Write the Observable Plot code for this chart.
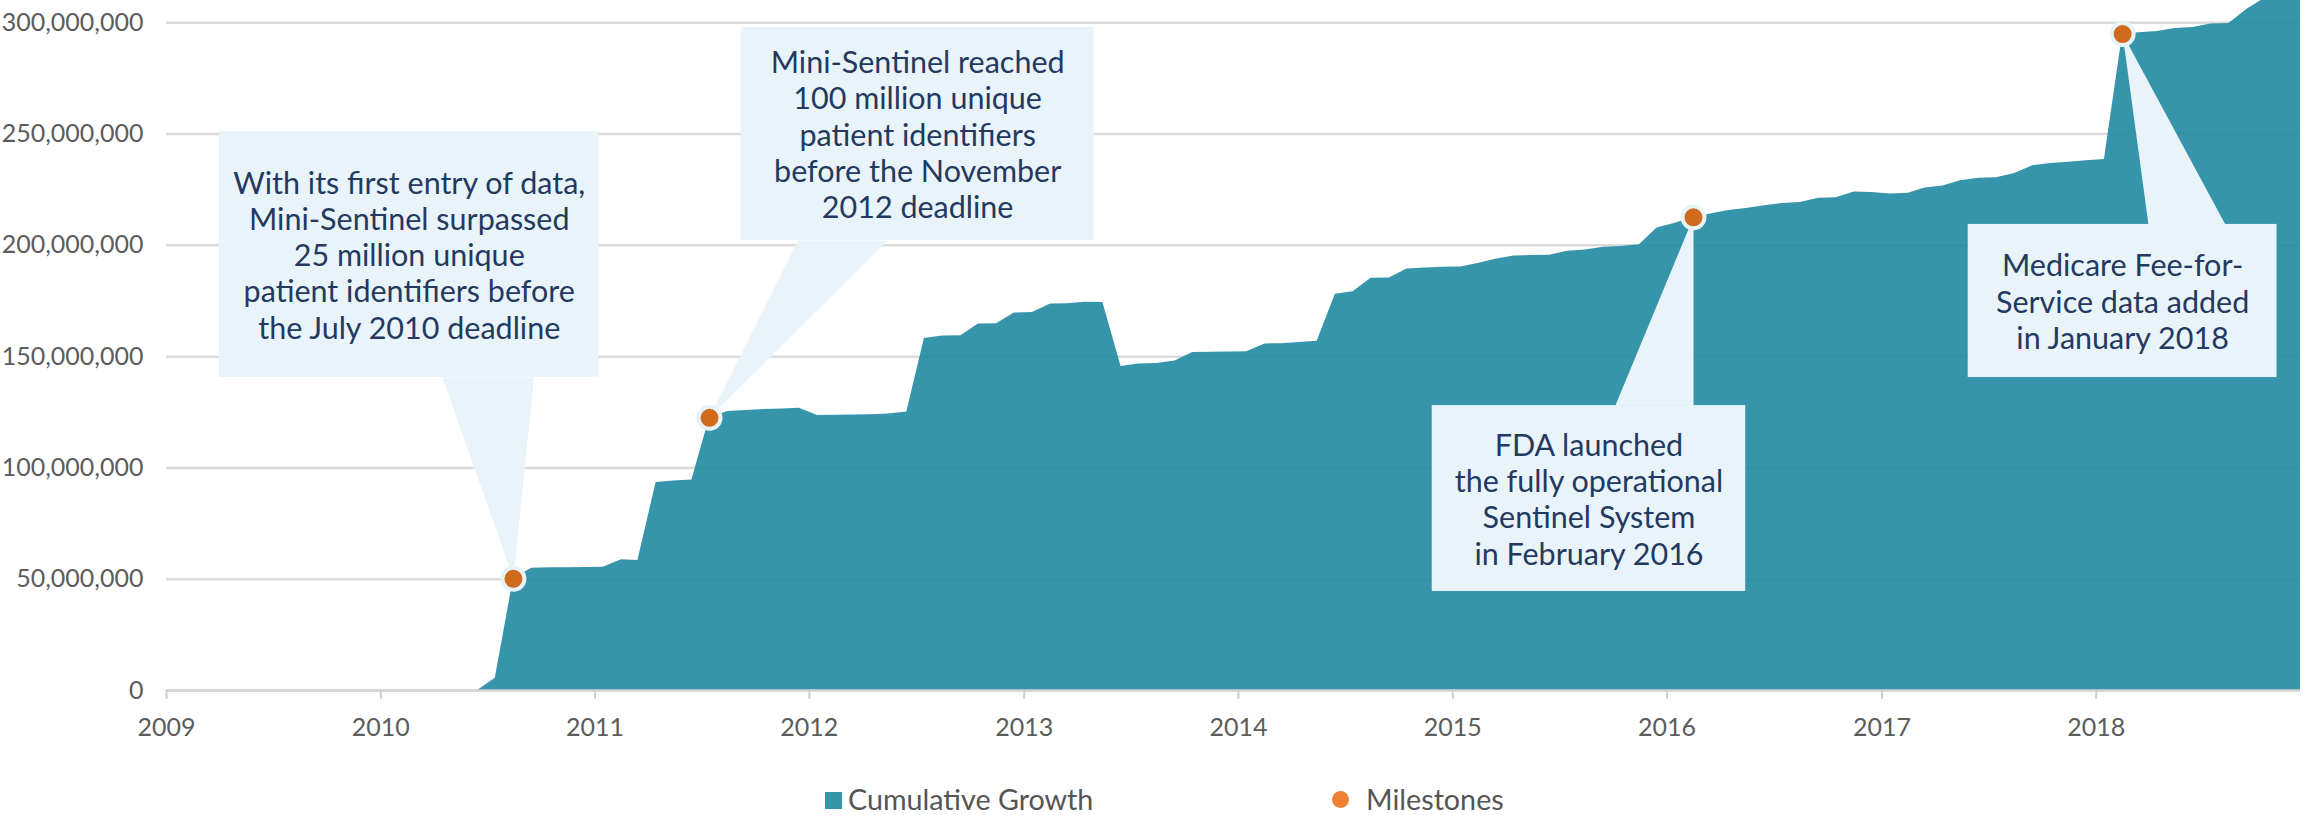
<!DOCTYPE html>
<html>
<head>
<meta charset="utf-8">
<script src="https://cdn.jsdelivr.net/npm/d3@7"></script>
<script src="https://cdn.jsdelivr.net/npm/@observablehq/plot@0.6"></script>
<style>
  html, body { margin: 0; padding: 0; background: #ffffff; }
  #wrap { width: 2305px; height: 815px; position: relative; overflow: hidden; font-family: Lato, "Open Sans", sans-serif; }
  #legend { position: relative; height: 55px; font-family: Lato, sans-serif; font-size: 28.7px; color: #555555; }
  #legend .sw { position: absolute; }
  #legend .lbl { position: absolute; line-height: 28px; white-space: nowrap; }
</style>
</head>
<body>
<div id="wrap">
  <div id="chart"></div>
  <div id="legend"></div>
</div>
<script>
// ---------------- DATA ----------------
// Monthly cumulative unique patient identifiers (millions), Jan 2009 .. Dec 2018
const seriesStart = "2009-01-15";
const cumulativeMillions = [
  // 2009
  0, 0, 0, 0, 0, 0, 0, 0, 0, 0, 0, 0,
  // 2010
  0, 0, 0, 0, 0, 0, 5.5, 50.2, 54.9, 55.1, 55.2, 55.3,
  // 2011
  55.4, 58.7, 58.4, 93.5, 94.1, 94.6, 122.5, 125.4, 125.8, 126.2, 126.5, 126.8,
  // 2012
  123.5, 123.7, 123.8, 123.9, 124.2, 125.1, 158.2, 159.3, 159.4, 164.7, 164.8, 169.6,
  // 2013
  169.8, 173.7, 173.8, 174.4, 174.3, 145.6, 146.7, 146.9, 148.0, 151.9, 152.0, 152.1,
  // 2014
  152.2, 155.7, 155.8, 156.3, 156.9, 178.0, 179.1, 185.2, 185.3, 189.4, 189.8, 190.1,
  // 2015
  190.3, 191.9, 193.7, 195.2, 195.4, 195.5, 197.3, 197.9, 199.1, 199.5, 200.3, 207.8,
  // 2016
  209.9, 212.6, 214.1, 215.6, 216.6, 217.8, 218.8, 219.3, 221.1, 221.4, 224.0, 223.7,
  // 2017
  223.1, 223.4, 225.8, 226.7, 229.0, 230.1, 230.4, 232.3, 235.8, 236.8, 237.3, 238.0,
  // 2018
  238.6, 294.9, 295.5, 296.1, 297.4, 297.9, 299.4, 299.7, 306.1, 311.0, 313.0, 315.0
];

const milestoneDates = ["2010-08-15", "2011-07-15", "2016-02-15", "2018-02-15"];
const milestoneMillions = [50.2, 122.5, 212.6, 294.9];
const milestoneNotes = [
  "With its first entry of data,\nMini-Sentinel surpassed\n25 million unique\npatient identifiers before\nthe July 2010 deadline",
  "Mini-Sentinel reached\n100 million unique\npatient identifiers\nbefore the November\n2012 deadline",
  "FDA launched\nthe fully operational\nSentinel System\nin February 2016",
  "Medicare Fee-for-\nService data added\nin January 2018"
];

const yTicks = [0, 50e6, 100e6, 150e6, 200e6, 250e6, 300e6];
const xTickYears = ["2009", "2010", "2011", "2012", "2013", "2014", "2015", "2016", "2017", "2018"];
const legendLabels = ["Cumulative Growth", "Milestones"];

// ---------------- LAYOUT (callout boxes, in data space) ----------------
const calloutLayout = [
  {x1: "2009-04-01", x2: "2011-01-08", y1: 140.6, y2: 251.1, b1: "2010-04-16", b2: "2010-09-19", edge: "bottom"},
  {x1: "2011-09-07", x2: "2013-04-30", y1: 202.2, y2: 297.9, b1: "2011-12-13", b2: "2012-05-13", edge: "bottom"},
  {x1: "2014-11-27", x2: "2016-05-14", y1: 44.5, y2: 128.0, b1: "2015-10-05", b2: "2016-02-15", edge: "top"},
  {x1: "2017-05-28", x2: "2018-11-05", y1: 140.6, y2: 209.4, b1: "2018-03-31", b2: "2018-08-09", edge: "top"}
];

// ---------------- BUILD TABLES ----------------
const t0 = new Date(seriesStart + "T00:00:00Z");
const series = cumulativeMillions.map((v, i) => ({
  date: d3.utcMonth.offset(t0, i),
  value: v * 1e6
}));
const D = s => new Date(s + "T00:00:00Z");
const milestones = milestoneDates.map((d, i) => ({date: D(d), value: milestoneMillions[i] * 1e6, note: milestoneNotes[i]}));

const boxes = calloutLayout.map((c, i) => ({
  x1: D(c.x1), x2: D(c.x2), y1: c.y1 * 1e6, y2: c.y2 * 1e6,
  cx: new Date((D(c.x1).getTime() + D(c.x2).getTime()) / 2),
  cy: (c.y1 + c.y2) / 2 * 1e6,
  note: milestoneNotes[i]
}));
const pointers = [];
calloutLayout.forEach((c, i) => {
  const yEdge = (c.edge === "bottom" ? c.y1 : c.y2) * 1e6;
  pointers.push({id: i, x: D(c.b1), y: yEdge});
  pointers.push({id: i, x: milestones[i].date, y: milestones[i].value});
  pointers.push({id: i, x: D(c.b2), y: yEdge});
});

const xTicks = xTickYears.map(y => D(y + "-01-01"));

// ---------------- CHART ----------------
const teal = "#2189a2";
const boxFill = "#e8f4f9";
const noteColor = "#24395f";

const chart = Plot.plot({
  width: 2305,
  height: 760,
  marginLeft: 166,
  marginRight: 5,
  marginTop: 0,
  marginBottom: 70,
  style: {fontFamily: "Lato, sans-serif", background: "#ffffff", overflow: "visible"},
  x: {type: "utc", domain: [D("2009-01-01"), D("2018-12-15")]},
  y: {domain: [0, 310e6]},
  marks: [
    Plot.gridY(yTicks, {stroke: "#dadada", strokeOpacity: 1, strokeWidth: 2.5}),
    Plot.areaY(series, {x: "date", y: "value", fill: teal, fillOpacity: 0.9, clip: true}),
    Plot.ruleY([0], {stroke: "#d4d4d4", strokeWidth: 2.5}),
    Plot.axisY({ticks: yTicks, tickSize: 0, tickPadding: 23, tickFormat: d3.format(","), fontSize: 25, fill: "#5c5c5c", label: null}),
    Plot.axisX({ticks: xTicks, tickSize: 9, tickPadding: 19, tickFormat: d3.utcFormat("%Y"), fontSize: 25, fill: "#5c5c5c", stroke: "#cfcfcf", strokeWidth: 2, label: null}),
    Plot.line(pointers, {x: "x", y: "y", z: "id", fill: boxFill, stroke: "none"}),
    Plot.rect(boxes, {x1: "x1", x2: "x2", y1: "y1", y2: "y2", fill: boxFill}),
    Plot.text(boxes, {x: "cx", y: "cy", text: "note", fontSize: 30.5, lineHeight: 1.19, fill: noteColor, textAnchor: "middle", fontFamily: "Lato, sans-serif"}),
    Plot.dot(milestones, {x: "date", y: "value", r: 11, fill: "#d06a1d", stroke: "#e6f3f8", strokeWidth: 4})
  ]
});
document.getElementById("chart").appendChild(chart);

// ---------------- LEGEND ----------------
const legend = document.getElementById("legend");
const items = [
  {label: legendLabels[0], sw: {left: 825, top: 31.5, w: 17, h: 17, bg: "#3795ab", radius: 0}, textLeft: 848},
  {label: legendLabels[1], sw: {left: 1331.5, top: 30.5, w: 17, h: 17, bg: "#ef8031", radius: 9}, textLeft: 1366}
];
items.forEach(it => {
  const s = document.createElement("div");
  s.className = "sw";
  s.style.left = it.sw.left + "px";
  s.style.top = it.sw.top + "px";
  s.style.width = it.sw.w + "px";
  s.style.height = it.sw.h + "px";
  s.style.background = it.sw.bg;
  s.style.borderRadius = it.sw.radius + "px";
  legend.appendChild(s);
  const t = document.createElement("div");
  t.className = "lbl";
  t.style.left = it.textLeft + "px";
  t.style.top = "24.5px";
  t.textContent = it.label;
  legend.appendChild(t);
});
</script>
</body>
</html>
